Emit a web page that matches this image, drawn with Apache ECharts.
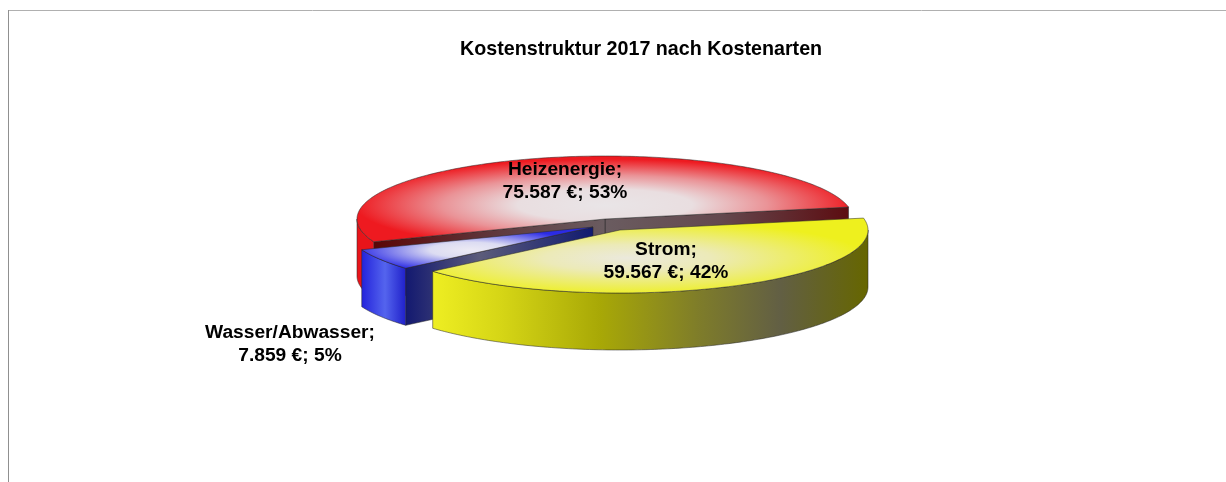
<!DOCTYPE html>
<html>
<head>
<meta charset="utf-8">
<style>
html,body{margin:0;padding:0;background:#fff;}
#chart{width:1226px;height:482px;}
</style>
<script src="https://cdn.jsdelivr.net/npm/echarts@6/dist/echarts.min.js"></script>
</head>
<body>
<div id="chart"></div>
<script>
var categories = ['Heizenergie', 'Wasser/Abwasser', 'Strom'];
var costs = [75587, 7859, 59567];

// pie geometry, angles run counter clockwise from 3 o'clock
var firstAngle = 10.9, radiusX = 248, radiusY = 63, depth = 57;
var centers = [[605, 219], [593, 227], [620, 230]];
var labelPos = [[565, 181], [290, 344], [666, 261]];
var faces = [
	{gx: 605, gy: 205, ga: 250, gb: 46, stops: [[0, '#e9e5e7'], [0.35, '#e9dee0'], [0.65, '#ea9397'], [1, '#ee1a20']]},
	{gx: 470, gy: 250, ga: 115, gb: 22, stops: [[0, '#eceaf4'], [0.35, '#dcdcf2'], [1, '#2b2be6']]},
	{gx: 628, gy: 258, ga: 240, gb: 38, stops: [[0, '#ebe9dc'], [0.35, '#eceab8'], [1, '#eef01e']]}
];
var wallStops = [
	[[356, '#e8141a'], [380, '#e8141a']],
	[[362, '#2424dc'], [385, '#5464ee'], [407, '#1c1cc8']],
	[[433, '#eeee22'], [500, '#d6d616'], [600, '#a8a806'], [700, '#7e7c2a'], [780, '#625f44'], [868, '#666600']]
];
var cutStops = [
	[[373, '#5a0506'], [500, '#5f3a3f'], [605, '#6a5c60'], [720, '#64484e'], [850, '#5c0c10']],
	[[407, '#141a70'], [480, '#5c5c7a'], [593, '#101a70']],
	[[0, '#000'], [1, '#000']]
];

var total = costs.reduce(function(a, b){ return a + b; }, 0);
var spans = [], from = firstAngle;
costs.forEach(function(v){
	var sweep = v / total * 360;
	spans.push([from, from + sweep]);
	from += sweep;
});

function rad(d){ return d * Math.PI / 180; }
function onRim(c, t){ return [c[0] + radiusX * Math.cos(rad(t)), c[1] - radiusY * Math.sin(rad(t))]; }
function rim(c, a, b){
	var pts = [];
	for (var t = a; t < b; t += 1) pts.push(onRim(c, t));
	pts.push(onRim(c, b));
	return pts;
}
function linear(x1, x2, stops){
	var w = x2 - x1;
	return new echarts.graphic.LinearGradient(x1, 0, x2, 0, stops.map(function(s){
		return {offset: (s[0] - x1) / w, color: s[1]};
	}), true);
}
function stopsX(stops){ return linear(stops[0][0], stops[stops.length - 1][0], stops); }

function slice(params){
	var i = params.dataIndex, c = centers[i], s = spans[i][0], e = spans[i][1];
	var kids = [];
	var line = {stroke: 'rgba(40,40,40,0.75)', lineWidth: 0.7};

	function cutWall(t){
		var p = onRim(c, t);
		kids.push({type: 'polygon', shape: {points: [c, p, [p[0], p[1] + depth], [c[0], c[1] + depth]]},
			style: {fill: stopsX(cutStops[i]), stroke: line.stroke, lineWidth: line.lineWidth}});
	}
	// only cut faces turned towards the viewer are drawn
	if (Math.cos(rad(s)) > 0) cutWall(s);
	if (Math.cos(rad(e)) < 0) cutWall(e);

	var a = Math.max(s, 180), b = Math.min(e, 360);
	if (b > a) {
		var upper = rim(c, a, b);
		var lower = upper.map(function(p){ return [p[0], p[1] + depth]; }).reverse();
		kids.push({type: 'polygon', shape: {points: upper.concat(lower)},
			style: {fill: stopsX(wallStops[i]), stroke: line.stroke, lineWidth: line.lineWidth}});
	}

	// top face: local space is stretched so the radial gradient comes out elliptical
	var outline = [c].concat(rim(c, s, e));
	var f = faces[i], k = f.ga / f.gb;
	kids.push({type: 'polygon', x: f.gx, y: f.gy, scaleY: 1 / k,
		shape: {points: outline.map(function(p){ return [p[0] - f.gx, (p[1] - f.gy) * k]; })},
		style: {fill: {type: 'radial', x: 0, y: 0, r: f.ga, global: true, colorStops: f.stops.map(function(st){
			return {offset: st[0], color: st[1]};
		})}}});
	kids.push({type: 'polygon', shape: {points: outline},
		style: {fill: 'none', stroke: line.stroke, lineWidth: line.lineWidth}});

	return {type: 'group', children: kids};
}

function labels(params){
	var i = params.dataIndex;
	var pct = Math.round(costs[i] / total * 100);
	return {type: 'text', x: labelPos[i][0], y: labelPos[i][1], style: {
		text: categories[i] + ';\n' + costs[i].toLocaleString('de-DE') + ' €; ' + pct + '%',
		font: 'bold 19.2px "Liberation Sans"', fill: '#000', lineHeight: 23,
		textAlign: 'center', textVerticalAlign: 'middle'
	}};
}

var chart = echarts.init(document.getElementById('chart'));
chart.setOption({
	animation: false,
	title: {
		text: 'Kostenstruktur 2017 nach Kostenarten',
		left: 455, top: 35,
		textStyle: {fontFamily: 'Liberation Sans', fontWeight: 'bold', fontSize: 19.7, color: '#000'}
	},
	graphic: [
		{type: 'line', shape: {x1: 8, y1: 10.5, x2: 1226, y2: 10.5}, style: {stroke: '#b0b0b0', lineWidth: 1}},
		{type: 'line', shape: {x1: 8.5, y1: 10, x2: 8.5, y2: 482}, style: {stroke: '#909090', lineWidth: 1}}
	],
	series: [
		{type: 'custom', coordinateSystem: 'none', renderItem: slice, data: costs, z: 2, silent: true},
		{type: 'custom', coordinateSystem: 'none', renderItem: labels, data: costs, z: 3, silent: true}
	]
});
</script>
</body>
</html>
